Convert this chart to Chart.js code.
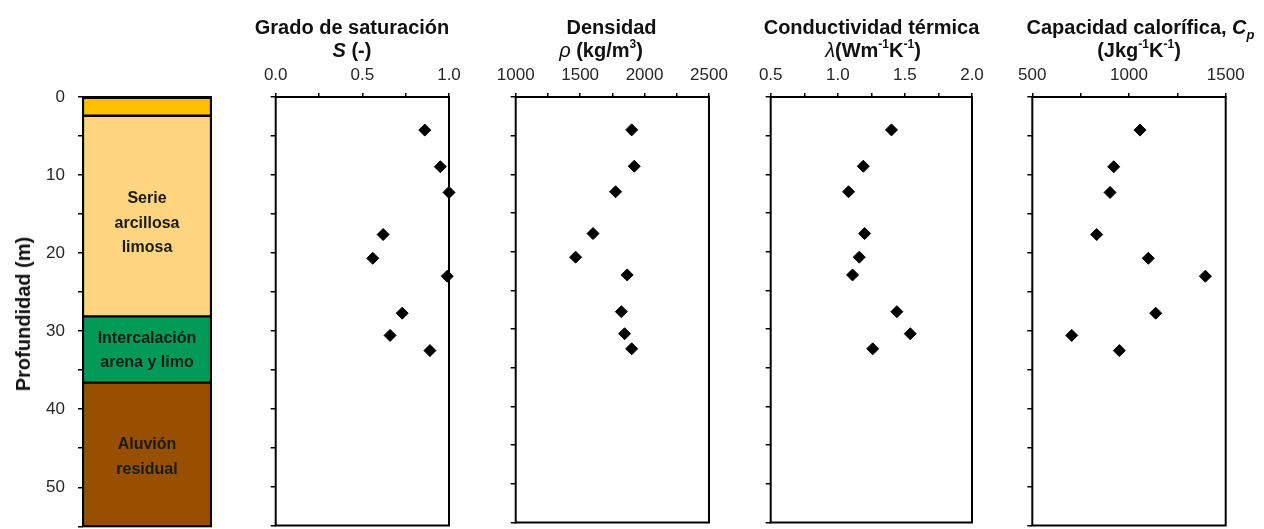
<!DOCTYPE html>
<html><head><meta charset="utf-8">
<script src="https://cdn.jsdelivr.net/npm/chart.js@4.4.1/dist/chart.umd.min.js"></script>
<style>
body{margin:0;background:#fff;width:1264px;height:529px;overflow:hidden;position:relative;font-family:'Liberation Sans',Arial,sans-serif;}
canvas{position:absolute;left:0;top:0;}
.t{position:absolute;white-space:nowrap;transform:translateX(-50%);font-weight:bold;font-size:20px;line-height:20px;color:#111;}
.t sup{font-size:0.6em;line-height:0;position:relative;top:-0.1em;}
.t sub{font-size:0.65em;line-height:0;position:relative;top:0.05em;}
.lay{position:absolute;white-space:nowrap;transform:translateX(-50%);font-weight:bold;font-size:16px;line-height:24.5px;text-align:center;color:#1a1a1a;}
.ytitle{position:absolute;white-space:nowrap;font-weight:bold;font-size:20px;line-height:20px;color:#111;left:22.5px;top:314px;transform:translate(-50%,-50%) rotate(-90deg);}
</style></head><body>
<canvas id="c0" width="1264" height="529"></canvas>
<canvas id="c1" width="1264" height="529"></canvas>
<canvas id="c2" width="1264" height="529"></canvas>
<canvas id="c3" width="1264" height="529"></canvas>
<canvas id="c4" width="1264" height="529"></canvas>

<div class="ytitle">Profundidad (m)</div>
<div class="lay" style="left:147px;top:186px">Serie<br>arcillosa<br>limosa</div>
<div class="lay" style="left:147px;top:325.5px;line-height:24px">Intercalación<br>arena y limo</div>
<div class="lay" style="left:147px;top:430.5px;line-height:25px">Aluvión<br>residual</div>

<div class="t" style="left:352px;top:16.5px">Grado de saturación</div>
<div class="t" style="left:352px;top:40px"><i>S</i> (-)</div>
<div class="t" style="left:611.5px;top:16.5px">Densidad</div>
<div class="t" style="left:601px;top:40px"><i style="font-weight:normal">ρ</i> (kg/m<sup>3</sup>)</div>
<div class="t" style="left:871.5px;top:16.5px">Conductividad térmica</div>
<div class="t" style="left:873px;top:40px"><i style="font-weight:normal">λ</i>(Wm<sup>-1</sup>K<sup>-1</sup>)</div>
<div class="t" style="left:1140.5px;top:16.5px">Capacidad calorífica, <i>C<sub>p</sub></i></div>
<div class="t" style="left:1139px;top:40px">(Jkg<sup>-1</sup>K<sup>-1</sup>)</div>

<script>
// ---- data ----
const depth = [4.25, 8.95, 12.25, 17.65, 20.7, 23.0, 27.75, 30.6, 32.55];
const saturation = [0.86, 0.95, 1.0, 0.62, 0.56, 0.99, 0.73, 0.66, 0.89];
const density = [1900, 1920, 1775, 1600, 1465, 1865, 1820, 1845, 1900];
const conductivity = [1.40, 1.19, 1.08, 1.20, 1.16, 1.11, 1.44, 1.54, 1.26];
const heatCapacity = [1057, 921, 902, 833, 1100, 1395, 1138, 704, 950];

const layerNames = ['Relleno', 'Serie arcillosa limosa', 'Intercalación arena y limo', 'Aluvión residual'];
const layerTop = [0, 2.4, 28.1, 36.6];
const layerBottom = [2.4, 28.1, 36.6, 55];

const depthTickLabels = [0, 10, 20, 30, 40, 50];
const satTickLabels = ['0.0', '0.5', '1.0'];
const densTickLabels = ['1000', '1500', '2000', '2500'];
const condTickLabels = ['0.5', '1.0', '1.5', '2.0'];
const capTickLabels = ['500', '1000', '1500'];

// ---- style ----
const layerColors = ['#FFC000', '#FFD580', '#009A56', '#985000'];
const FONT = "'Liberation Sans', Arial, sans-serif";
const TICKCOL = '#262626';
const W = 1264, H = 529;

const boxPlugin = {
  id: 'box',
  beforeDatasetsDraw(chart) {
    const {ctx, chartArea: a} = chart;
    ctx.save();
    ctx.strokeStyle = '#000';
    ctx.lineWidth = 2;
    ctx.strokeRect(a.left, a.top, a.right - a.left, a.bottom - a.top);
    ctx.restore();
  }
};

function noPad(s) { s.paddingTop = 0; s.paddingBottom = 0; s.paddingLeft = 0; s.paddingRight = 0; }

function labelFor(list) {
  const nums = list.map(Number);
  return (v) => {
    const i = nums.findIndex(n => Math.abs(n - v) < 1e-6);
    return i >= 0 ? list[i] : '';
  };
}

// stratigraphic column
new Chart(document.getElementById('c0'), {
  type: 'bar',
  data: {
    labels: ['perfil'],
    datasets: layerNames.map((n, i) => ({
      label: n,
      data: [[layerTop[i], layerBottom[i]]],
      backgroundColor: layerColors[i],
      borderColor: '#000',
      borderWidth: 1.5,
      borderSkipped: false,
      barPercentage: 1,
      categoryPercentage: 1,
      grouped: false
    }))
  },
  options: {
    responsive: false, animation: false, events: [],
    layout: {autoPadding: false, padding: {left: 0, right: W - 211, top: 97, bottom: H - 526.3}},
    plugins: {legend: {display: false}, tooltip: {enabled: false}},
    scales: {
      x: {display: false},
      y: {
        type: 'linear', reverse: true, min: 0, max: 55,
        ticks: {stepSize: 5, autoSkip: false, padding: 13, color: TICKCOL, font: {size: 17, family: FONT},
          callback: (v) => depthTickLabels.includes(v) ? String(v) : ''},
        grid: {drawOnChartArea: false, drawTicks: true, tickLength: 5, color: '#000', lineWidth: 1.5},
        border: {display: false},
        afterFit: (s) => { s.width = 83; noPad(s); }
      }
    }
  },
  plugins: [boxPlugin]
});

function panel(id, area, xr, values, tickLabels) {
  new Chart(document.getElementById(id), {
    type: 'scatter',
    data: {datasets: [{
      data: depth.map((d, i) => ({x: values[i], y: d})),
      pointStyle: 'rectRot', pointRadius: 6, pointHoverRadius: 6,
      backgroundColor: '#000', borderColor: '#000', borderWidth: 1,
      clip: false
    }]},
    options: {
      responsive: false, animation: false, events: [],
      layout: {autoPadding: false, padding: {left: area.left - 10, right: W - area.right, top: 0, bottom: H - area.bottom}},
      plugins: {legend: {display: false}, tooltip: {enabled: false}},
      scales: {
        x: {
          type: 'linear', position: 'top', min: xr.min, max: xr.max,
          ticks: {stepSize: xr.step, autoSkip: false, maxRotation: 0, padding: 7, color: TICKCOL,
            font: {size: 17, family: FONT}, callback: labelFor(tickLabels)},
          grid: {drawOnChartArea: false, drawTicks: true, tickLength: 4, color: '#000', lineWidth: 1.5},
          border: {display: false},
          afterFit: (s) => { s.height = area.top; noPad(s); }
        },
        y: {
          type: 'linear', reverse: true, min: 0, max: 55,
          ticks: {stepSize: 5, autoSkip: false, callback: () => ''},
          grid: {drawOnChartArea: false, drawTicks: true, tickLength: 5, color: '#000', lineWidth: 1.5},
          border: {display: false},
          afterFit: (s) => { s.width = 10; noPad(s); }
        }
      }
    },
    plugins: [boxPlugin]
  });
}

panel('c1', {left: 275.7, right: 449, top: 97, bottom: 525.5}, {min: 0, max: 1, step: 0.25}, saturation, satTickLabels);
panel('c2', {left: 515.7, right: 709, top: 97, bottom: 522.5}, {min: 1000, max: 2500, step: 250}, density, densTickLabels);
panel('c3', {left: 770.7, right: 972, top: 97, bottom: 522.5}, {min: 0.5, max: 2.0, step: 0.25}, conductivity, condTickLabels);
panel('c4', {left: 1032.3, right: 1225.7, top: 97, bottom: 525.5}, {min: 500, max: 1500, step: 250}, heatCapacity, capTickLabels);
</script>
</body></html>
